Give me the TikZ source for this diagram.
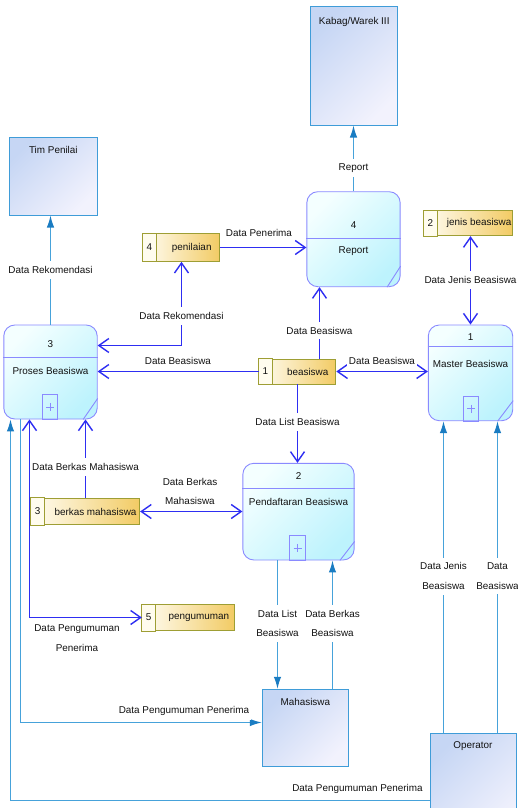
\documentclass[tikz,border=0pt]{standalone}
\usepackage{fontspec}
\setmainfont{Liberation Sans}
\usetikzlibrary{arrows.meta,calc}

\definecolor{flowblue}{HTML}{2E2EF2}
\definecolor{extblue}{HTML}{46A2DA}
\definecolor{extdark}{HTML}{1A7CC2}
\definecolor{procedge}{HTML}{8A8AFF}
\definecolor{procA}{HTML}{F4FFFF}
\definecolor{procB}{HTML}{BDF3FD}
\definecolor{entedge}{HTML}{3F9CD8}
\definecolor{entA}{HTML}{C6D6F4}
\definecolor{entB}{HTML}{F2F2FD}
\definecolor{storeedge}{HTML}{9E9E34}
\definecolor{storeA}{HTML}{FFFDF4}
\definecolor{storeB}{HTML}{F2CB64}
\definecolor{storecell}{HTML}{FFFCEE}
\definecolor{txt}{HTML}{121212}

\tikzset{
  Obarb/.tip={Straight Barb[length=10pt,width=14pt]},
  Fhead/.tip={Latex[length=12pt,width=7.5pt,color=extdark]},
  proc/.style={draw=procedge, line width=0.9pt, rounded corners=11pt,
    top color=procA, bottom color=procB, shading angle=45, inner sep=0pt},
  procline/.style={draw=procedge, line width=0.9pt},
  plusbox/.style={draw=procedge, line width=0.9pt, minimum width=15.5pt,
    minimum height=25pt, inner sep=0pt},
  ent/.style={draw=entedge, line width=1pt, top color=entA,
    bottom color=entB, shading angle=45, inner sep=0pt},
  store/.style={draw=storeedge, line width=0.9pt, left color=storeA,
    right color=storeB, inner sep=0pt},
  numcell/.style={draw=storeedge, line width=0.9pt, fill=storecell},
  tx/.style={text=txt, inner sep=0pt},
  flow/.style={draw=flowblue, line width=1.4pt},
  ext/.style={draw=extblue, line width=1.2pt},
  lbl/.style={text=txt, fill=white, inner xsep=1.5pt, inner ysep=5pt, align=center},
  lbltwo/.style={lbl, font=\fontsize{9.9}{19.5}\selectfont},
}

\begin{document}
\begin{tikzpicture}[x=1pt, y=-1pt, font=\fontsize{9.9}{12}\selectfont]
\useasboundingbox (0,0) rectangle (518,808);
\fill[white] (0,0) rectangle (518,808);
\clip (0,0) rectangle (518,808);

% ---------- external entities ----------
\node[ent, minimum width=87pt, minimum height=118pt] (kabag) at (354.2,66) {};
\node[tx] (kabagT) at ($(kabag.north)+(0,15.7)$) {Kabag/Warek III};
\node[ent, minimum width=88.7pt, minimum height=78pt] (tim) at (53.35,176) {};
\node[tx] (timT) at ($(tim.north)+(0,13.7)$) {Tim Penilai};
\node[ent, minimum width=86pt, minimum height=76.7pt] (mhs) at (305.3,727.65) {};
\node[tx] (mhsT) at ($(mhs.north)+(0,13.4)$) {Mahasiswa};
\node[ent, minimum width=86pt, minimum height=106.7pt] (op) at (473,786.65) {};
\node[tx] (opT) at ($(op.north)+(0,13.4)$) {Operator};

% ---------- processes ----------
% 3 Proses Beasiswa
\node[proc, minimum width=93.4pt, minimum height=94pt] (p3) at (50.5,372) {};
\draw[procline] ($(p3.north west)+(0,33)$) -- ($(p3.north east)+(0,33)$);
\node[tx] (p3N) at ($(p3.north)+(0,20)$) {3};
\node[tx] (p3T) at ($(p3.north)+(0,46.7)$) {Proses Beasiswa};
\node[plusbox] (p3P) at ($(p3.south)+(-0.5,-12.5)$) {};
\draw[procline, line width=0.6pt] ($(p3P.center)+(-4,0)$) -- ($(p3P.center)+(4,0)$)
  ($(p3P.center)+(0,-4)$) -- ($(p3P.center)+(0,4)$);
\draw[procline] ($(p3.south east)+(-14.5,0)$) -- ($(p3.south east)+(0,-21)$);

% 4 Report
\node[proc, minimum width=93.3pt, minimum height=95pt] (p4) at (353.5,239.2) {};
\draw[procline] ($(p4.north west)+(0,47.6)$) -- ($(p4.north east)+(0,47.6)$);
\node[tx] (p4N) at ($(p4.north)+(0,34.3)$) {4};
\node[tx] (p4T) at ($(p4.north)+(0,60)$) {Report};
\draw[procline] ($(p4.south east)+(-13.5,0)$) -- ($(p4.south east)+(0,-21)$);

% 1 Master Beasiswa
\node[proc, minimum width=84.4pt, minimum height=95.7pt] (p1) at (470.5,372.85) {};
\draw[procline] ($(p1.north west)+(0,21.7)$) -- ($(p1.north east)+(0,21.7)$);
\node[tx] (p1N) at ($(p1.north)+(0,12.3)$) {1};
\node[tx] (p1T) at ($(p1.north)+(0,39)$) {Master Beasiswa};
\node[plusbox] (p1P) at ($(p1.south)+(0.5,-12.5)$) {};
\draw[procline, line width=0.6pt] ($(p1P.center)+(-4,0)$) -- ($(p1P.center)+(4,0)$)
  ($(p1P.center)+(0,-4)$) -- ($(p1P.center)+(0,4)$);
\draw[procline] ($(p1.south east)+(-15.5,0)$) -- ($(p1.south east)+(0,-20.5)$);

% 2 Pendaftaran Beasiswa
\node[proc, minimum width=111.3pt, minimum height=96.7pt] (p2) at (298.5,511.65) {};
\draw[procline] ($(p2.north west)+(0,26)$) -- ($(p2.north east)+(0,26)$);
\node[tx] (p2N) at ($(p2.north)+(0,12.7)$) {2};
\node[tx] (p2T) at ($(p2.north)+(0,39.4)$) {Pendaftaran Beasiswa};
\node[plusbox] (p2P) at ($(p2.south)+(-1,-12.5)$) {};
\draw[procline, line width=0.6pt] ($(p2P.center)+(-4,0)$) -- ($(p2P.center)+(4,0)$)
  ($(p2P.center)+(0,-4)$) -- ($(p2P.center)+(0,4)$);
\draw[procline] ($(p2.south east)+(-14.7,0)$) -- ($(p2.south east)+(0,-19)$);

% ---------- data stores ----------
\node[store, minimum width=76.6pt, minimum height=27.7pt] (s4) at (181.5,247.5) {};
\path[numcell] (s4.north west) rectangle ($(s4.south west)+(13.4,0)$);
\node[tx] (s4N) at ($(s4.west)+(6.7,0)$) {4};
\node[tx] (s4T) at ($(s4.center)+(10.2,0)$) {penilaian};

\node[store, minimum width=88.3pt, minimum height=25pt] (s2) at (468.15,223.2) {};
\path[numcell] (s2.north west) rectangle ($(s2.south west)+(13.4,0)$);
\node[tx] (s2N) at ($(s2.west)+(6.7,0)$) {2};
\node[tx] (s2T) at ($(s2.center)+(11,0)$) {jenis beasiswa};

\node[store, minimum width=76.7pt, minimum height=25pt] (s1) at (297.5,371.5) {};
\path[numcell] (s1.north west) rectangle ($(s1.south west)+(13.4,0)$);
\node[tx] (s1N) at ($(s1.west)+(6.7,0)$) {1};
\node[tx] (s1T) at ($(s1.center)+(10.2,0)$) {beasiswa};

\node[store, minimum width=108.3pt, minimum height=26.7pt] (s3) at (85.5,511.5) {};
\path[numcell] (s3.north west) rectangle ($(s3.south west)+(13.4,0)$);
\node[tx] (s3N) at ($(s3.west)+(6.7,0)$) {3};
\node[tx] (s3T) at ($(s3.center)+(10,0)$) {berkas mahasiswa};

\node[store, minimum width=92pt, minimum height=26pt] (s5) at (188.3,617.5) {};
\path[numcell] (s5.north west) rectangle ($(s5.south west)+(13.7,0)$);
\node[tx] (s5N) at ($(s5.west)+(6.8,0)$) {5};
\node[tx] (s5T) at ($(s5.center)+(10.5,0)$) {pengumuman};

% ---------- attachment points ----------
\coordinate (p3r) at ($(p3.east)+(0,-26.5)$);
\coordinate (s1t) at ($(s1.north)+(22,0)$);
\coordinate (p3a) at ($(p3.south)+(-21,0)$);
\coordinate (p3b) at ($(p3.south)+(-30,0)$);
\coordinate (p3c) at ($(p3.south)+(-40,0)$);
\coordinate (mhsL) at ($(mhs.west)+(0,-5.15)$);
\coordinate (opL) at ($(op.west)+(0,13.85)$);
\coordinate (p2a) at ($(p2.south)+(-21,0)$);
\coordinate (p2b) at ($(p2.south)+(34,0)$);
\coordinate (p1a) at ($(p1.south)+(-27,0)$);
\coordinate (p1b) at ($(p1.south)+(27,0)$);

% ---------- flows to and from external entities ----------
\draw[ext, -Fhead] (p4.north) -- (p4.north |- kabag.south);
\draw[ext, -Fhead] (p3.north) -- (p3.north |- tim.south);
\draw[ext, -Fhead] (p3b) |- (mhsL);
\draw[ext, -Fhead] (opL) -| (p3c);
\draw[ext, -Fhead] (p2a) -- (p2a |- mhs.north);
\draw[ext, -Fhead] (p2b |- mhs.north) -- (p2b);
\draw[ext, -Fhead] (p1a |- op.north) -- (p1a);
\draw[ext, -Fhead] (p1b |- op.north) -- (p1b);

% ---------- flows between processes and stores ----------
\draw[flow, -Obarb] (s4.east) -- (s4.east -| p4.west);
\draw[flow, Obarb-Obarb] (s4.south) |- (p3r);
\draw[flow, -Obarb] (s1.west) -- (s1.west -| p3.east);
\draw[flow, -Obarb] (s1t) -- (s1t |- p4.south);
\draw[flow, Obarb-Obarb] (s1.east) -- (s1.east -| p1.west);
\draw[flow, Obarb-Obarb] (s2.south -| p1.north) -- (p1.north);
\draw[flow, -Obarb] (s1.south) -- (s1.south |- p2.north);
\draw[flow, Obarb-Obarb] (s3.east) -- (s3.east -| p2.west);
\draw[flow, -Obarb] (s3.north) -- (s3.north |- p3.south);
\draw[flow, Obarb-Obarb] (p3a) |- (s5.west);

% ---------- flow labels ----------
\node[lbl] (l1) at (353.5,168) {Report};
\node[lbl] (l2) at (50.5,270) {Data Rekomendasi};
\node[lbl] (l3) at (259,233) {Data Penerima};
\node[lbl] (l4) at (181.5,316) {Data Rekomendasi};
\node[lbl] (l5) at (178,361) {Data Beasiswa};
\node[lbl] (l6) at (319.5,330.7) {Data Beasiswa};
\node[lbl] (l7) at (382,360.7) {Data Beasiswa};
\node[lbl] (l8) at (470.5,280) {Data Jenis Beasiswa};
\node[lbl] (l9) at (297.5,422) {Data List Beasiswa};
\node[lbltwo] (l10) at (190,491.4) {Data Berkas\\Mahasiswa};
\node[lbl] (l11) at (85.5,467) {Data Berkas Mahasiswa};
\node[lbltwo, fill=none] (l12) at (77,638.3) {Data Pengumuman\\Penerima};
\node[lbl] (l13) at (184,710.7) {Data Pengumuman Penerima};
\node[lbl] (l14) at (357.5,789.3) {Data Pengumuman Penerima};
\node[lbltwo] (l15) at (277.5,623.3) {Data List\\Beasiswa};
\node[lbltwo] (l16) at (332.5,623.3) {Data Berkas\\Beasiswa};
\node[lbltwo] (l17) at (443.5,576.2) {Data Jenis\\Beasiswa};
\node[lbltwo] (l18) at (497.5,576.2) {Data\\Beasiswa};
\end{tikzpicture}
\end{document}
